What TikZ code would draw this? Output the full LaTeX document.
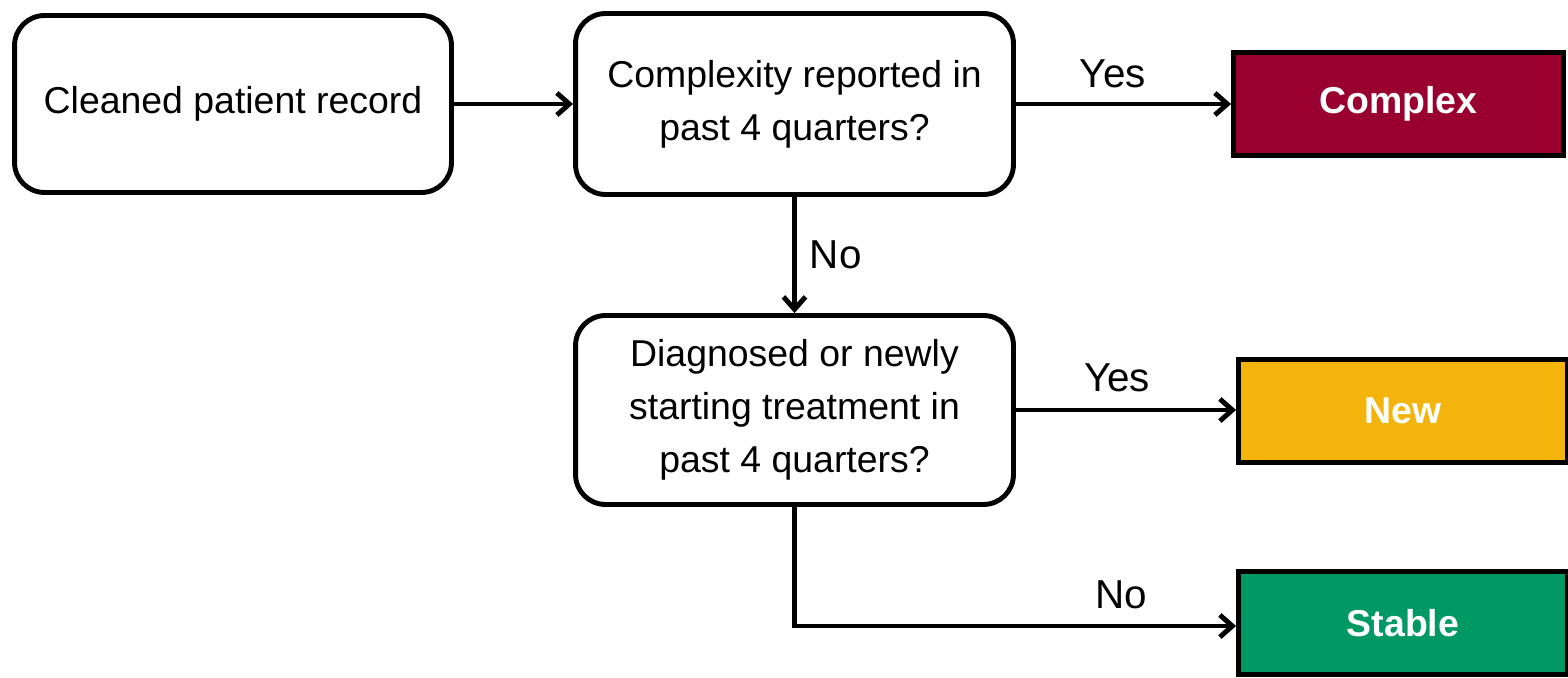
\documentclass[tikz,border=0pt]{standalone}
\usepackage{fontspec}
\setmainfont{Liberation Sans}
\usetikzlibrary{arrows.meta, positioning}

\definecolor{complexred}{RGB}{153,0,48}
\definecolor{newyellow}{RGB}{245,180,12}
\definecolor{stablegreen}{RGB}{0,153,102}

\begin{document}
\begin{tikzpicture}[
    x=0.02cm, y=-0.02cm,
    stepbox/.style={rectangle, rounded corners=0.6cm, draw=black, line width=2.8pt, align=center,
        font=\fontsize{21.3}{30}\selectfont, minimum width=8.76cm},
    outcome/.style={rectangle, draw=black, line width=2.8pt, text=white,
        font=\fontsize{21.3}{30}\selectfont\bfseries, minimum width=6.58cm, minimum height=2.06cm},
    answer/.style={font=\fontsize{23}{28}\selectfont},
    rel/.style={-{Straight Barb[length=2.5mm, width=4.4mm]}, line width=2.8pt}
]
\useasboundingbox (0,0) rectangle (1568,678);

% Schritte
\node[stepbox, minimum width=8.74cm, minimum height=3.54cm] (record) at (233,104) {Cleaned patient record};
\node[stepbox, minimum height=3.62cm] (complexq) at (794.5,104) {Complexity reported in\\past 4 quarters?};
\node[stepbox, minimum height=3.78cm] (newq) at (794.5,410) {Diagnosed or newly\\starting treatment in\\past 4 quarters?};

% Ergebnisse
\node[outcome, fill=complexred, minimum width=6.6cm] (complex) at (1398.5,104) {Complex};
\node[outcome, fill=newyellow] (new) at (1403,411) {New};
\node[outcome, fill=stablegreen] (stable) at (1403,623) {Stable};

% Verbindungen
\draw[rel] (record) -- (complexq);
\draw[rel] (complexq) -- node[answer, above, pos=0.45, yshift=0.16cm] {Yes} (complex);
\draw[rel] (complexq) -- node[answer, right, xshift=4pt] {No} (newq);
\draw[rel] (newq.east) -- node[answer, above, pos=0.46, yshift=0.2cm] {Yes} (new.west |- newq.east);
\draw[rel] (newq) |- node[answer, above, pos=0.87, yshift=0.18cm] {No} ([yshift=-0.06cm]stable.west);

\end{tikzpicture}
\end{document}
